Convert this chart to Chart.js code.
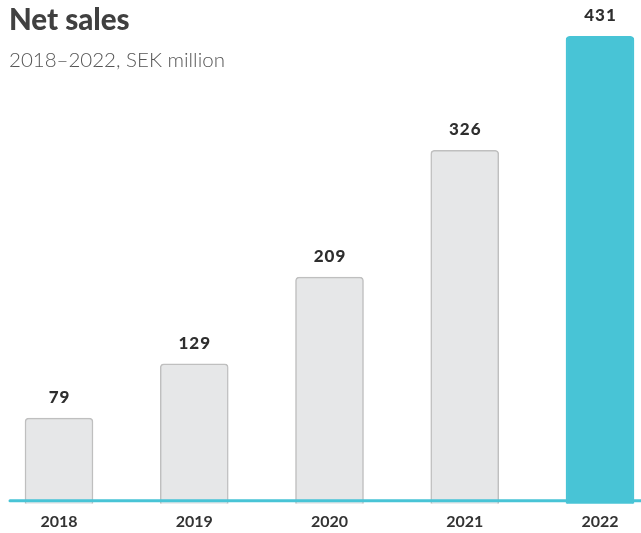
<!DOCTYPE html>
<html>
<head>
<meta charset="utf-8">
<script src="https://cdn.jsdelivr.net/npm/chart.js@4"></script>
<style>
  html, body { margin: 0; padding: 0; background: #fff; overflow: hidden; }
  #wrap { position: relative; width: 641px; height: 533px; }
  #title { position: absolute; left: 9px; top: 0px; font-family: Lato, sans-serif; font-weight: 900; font-size: 29.5px; color: #404040; margin: 0; line-height: 38px; }
  #subtitle { position: absolute; left: 9px; top: 45px; font-family: Lato, sans-serif; font-weight: 300; font-size: 20.5px; color: #555; margin: 0; line-height: 28px; }
  canvas { position: absolute; left: 0; top: 0; }
</style>
</head>
<body>
<div id="wrap">
  <canvas id="c" width="641" height="533"></canvas>
  <div id="title">Net sales</div>
  <div id="subtitle">2018–2022, SEK million</div>
</div>
<script>
const categories = ["2018", "2019", "2020", "2021", "2022"];
const netSales = [79, 129, 209, 326, 431];

const GRAY = "#e6e7e8";
const GRAY_BORDER = "#bfbfbf";
const TEAL = "#48c4d6";

const valueLabels = {
  id: "valueLabels",
  afterDatasetsDraw(chart) {
    const ctx = chart.ctx;
    const meta = chart.getDatasetMeta(0);
    ctx.save();
    ctx.font = "900 17px Lato, sans-serif";
    ctx.fillStyle = "#2e2e2e";
    ctx.textAlign = "center";
    ctx.textBaseline = "alphabetic";
    if ("letterSpacing" in ctx) ctx.letterSpacing = "1px";
    meta.data.forEach((bar, i) => {
      ctx.fillText(String(netSales[i]), bar.x + 0.5, bar.y - 15);
    });
    ctx.restore();
  }
};

const baseline = {
  id: "baseline",
  afterDatasetsDraw(chart) {
    const ctx = chart.ctx;
    const y = chart.scales.y.getPixelForValue(0);
    ctx.save();
    ctx.strokeStyle = TEAL;
    ctx.lineWidth = 3;
    ctx.lineCap = "round";
    ctx.beginPath();
    ctx.moveTo(10, y - 3);
    ctx.lineTo(chart.width, y - 3);
    ctx.stroke();
    ctx.restore();
  }
};

new Chart(document.getElementById("c"), {
  type: "bar",
  data: {
    labels: categories,
    datasets: [{
      data: netSales,
      backgroundColor: netSales.map((v, i) => i === netSales.length - 1 ? TEAL : GRAY),
      borderColor: netSales.map((v, i) => i === netSales.length - 1 ? TEAL : GRAY_BORDER),
      borderWidth: 1.5,
      borderRadius: 4,
      borderSkipped: "bottom",
      barThickness: 68,
      clip: false
    }]
  },
  options: {
    responsive: false,
    animation: false,
    devicePixelRatio: 1,
    layout: { padding: { left: 59, right: 41, top: 5, bottom: 0 } },
    plugins: { legend: { display: false }, tooltip: { enabled: false }, title: { display: false } },
    scales: {
      x: {
        offset: false,
        grid: { display: false, drawTicks: false },
        border: { display: false },
        ticks: {
          font: { family: "Lato, sans-serif", size: 16, weight: "bold" },
          color: "#333",
          padding: 9,
          maxRotation: 0,
          autoSkip: false
        },
        afterFit(scale) { scale.height = 29.3; }
      },
      y: {
        display: false,
        min: 0,
        max: 460
      }
    }
  },
  plugins: [valueLabels, baseline]
});
</script>
</body>
</html>
